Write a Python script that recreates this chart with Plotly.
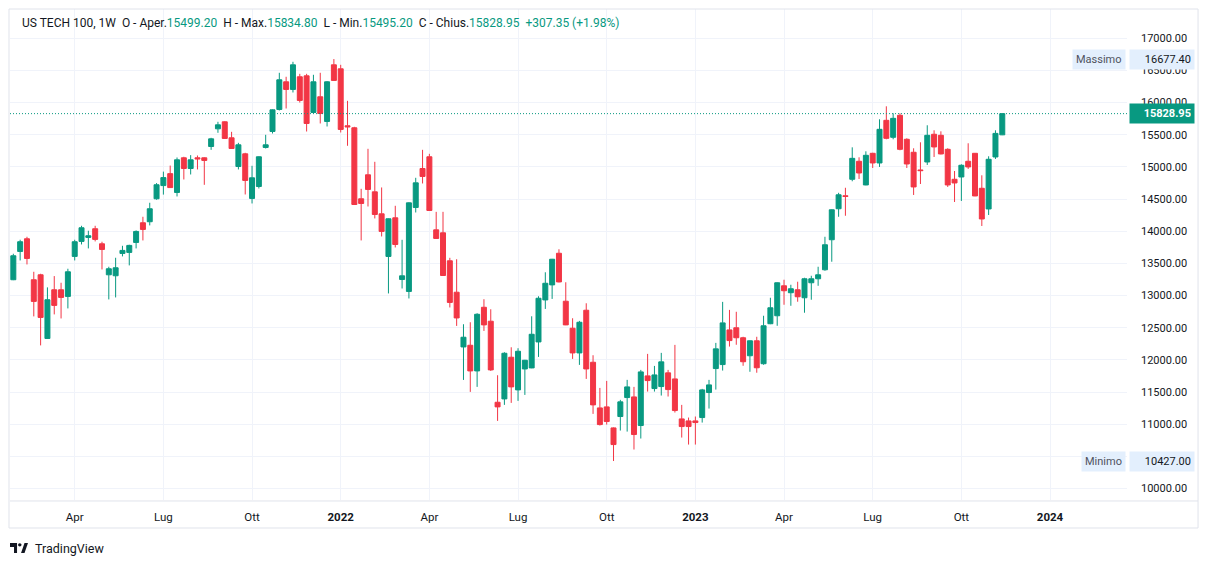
import plotly.graph_objects as go
import pandas as pd

# weekly candles, US TECH 100 (first bar: week of 2021-02-01)
first_week = "2021-02-01"

open_ = [13246, 13686, 13883, 13246, 13323, 12333, 13090, 13090, 12987, 13609,
         13842, 13904, 14039, 13805, 13323, 13308, 13655, 13671, 13826, 14132,
         14148, 14505, 14710, 14896, 14603, 15142, 14976, 15142, 15142, 15318,
         15593, 15702, 15453, 15007, 15204, 14510, 14696, 15303, 15552, 15894,
         16324, 16205, 16402, 16417, 15847, 16091, 15707, 16588, 16526, 15640,
         15609, 14505, 14878, 14613, 14271, 13608, 14209, 13250, 13064, 14370,
         14976, 15158, 14022, 13976, 13541, 13052, 12201, 12227, 11828, 12818,
         12601, 11341, 11393, 12041, 11533, 11859, 11875, 12279, 12932, 13166,
         13658, 12912, 12492, 12108, 12772, 11963, 11253, 11269, 10942, 11119,
         11414, 11424, 10979, 11751, 11554, 11585, 11798, 11704, 11082, 11051,
         11051, 11103, 11492, 11865, 11927, 12466, 12499, 12344, 12064, 12297,
         11940, 12562, 12686, 13152, 13044, 13090, 12966, 13199, 13261, 13401,
         13868, 14350, 14552, 14808, 15088, 14720, 15212, 15062, 15725, 15461,
         15803, 15430, 15228, 14953, 15077, 15508, 15492, 15274, 14808, 14844,
         15088, 15212, 14668, 14347, 15155, 15499.20]

high = [13650, 13868, 13914, 13370, 13339, 13127, 13303, 13199, 13417, 13868,
        14085, 14008, 14085, 13837, 13448, 13588, 13774, 13790, 14013, 14225,
        14443, 14749, 14927, 15021, 15147, 15158, 15184, 15178, 15150, 15453,
        15702, 15710, 15546, 15375, 15220, 15018, 15165, 15500, 15895, 16464,
        16402, 16635, 16448, 16448, 16433, 16464, 16335, 16677.40, 16588, 16028,
        15624, 14660, 15282, 15080, 14681, 14200, 14396, 13867, 14450, 14831,
        15266, 15204, 14302, 14302, 13587, 13565, 12554, 12585, 12725, 12943,
        12787, 11761, 12119, 12196, 12181, 12000, 12678, 12989, 13362, 13570,
        13720, 13207, 12647, 12606, 12880, 12072, 11564, 11673, 10950, 11378,
        11689, 11580, 11844, 12093, 11906, 12109, 11844, 12233, 11300, 11103,
        11119, 11549, 11689, 12264, 12902, 12777, 12748, 12359, 12300, 12359,
        12686, 12966, 13205, 13246, 13168, 13215, 13277, 13308, 13448, 13914,
        14340, 14598, 14676, 15305, 15150, 15243, 15220, 15741, 15943, 15834,
        15834, 15445, 15290, 15383, 15648, 15570, 15554, 15290, 14937, 15041,
        15368, 15215, 14870, 15166, 15570, 15834.80]

low = [13240, 13546, 13484, 12676, 12225, 12330, 12707, 12644, 12800, 13546,
       13795, 13733, 13842, 13406, 12940, 12971, 13609, 13469, 13733, 13857,
       14091, 14490, 14570, 14675, 14541, 14805, 14883, 14961, 14722, 15266,
       15531, 15440, 15280, 14961, 14572, 14432, 14665, 15287, 15520, 15878,
       15909, 16158, 16002, 15551, 15831, 15676, 15629, 16340, 15536, 15329,
       14410, 13857, 14385, 14199, 13919, 13033, 13748, 13110, 12955, 14292,
       14743, 14320, 13880, 13305, 12815, 12528, 11688, 11502, 11580, 12450,
       11828, 11051, 11300, 11331, 11362, 11455, 11870, 12046, 12792, 12948,
       13205, 12540, 12015, 11922, 11704, 11160, 10979, 10994, 10427.00, 10901,
       10885, 10606, 10777, 11507, 11507, 11445, 11430, 11181, 10792, 10683,
       10683, 11025, 11243, 11538, 11834, 12207, 12235, 11908, 11815, 11800,
       11924, 12555, 12530, 12857, 12841, 12904, 12733, 12935, 13152, 13386,
       13526, 14225, 14241, 14777, 14813, 14715, 14984, 15000, 15430, 15430,
       15259, 14984, 14564, 14735, 15031, 15155, 15195, 14689, 14455, 14471,
       14969, 14545, 14082, 14253, 15124, 15495.20]

close = [13619, 13837, 13577, 12909, 12660, 12935, 12847, 12971, 13370, 13837,
         14054, 13930, 13873, 13717, 13417, 13432, 13702, 13780, 13997, 14028,
         14350, 14723, 14834, 14679, 15111, 14976, 15111, 15126, 15101, 15437,
         15655, 15443, 15287, 15344, 14790, 14831, 15158, 15344, 15888, 16355,
         16205, 16588, 16034, 15676, 16324, 15831, 16324, 16345, 15583, 15624,
         14416, 14432, 14650, 14261, 13997, 14194, 13794, 13307, 14442, 14753,
         14852, 14323, 13888, 13312, 12893, 12652, 12352, 11828, 12709, 12544,
         11844, 11269, 12103, 11580, 12134, 11994, 12398, 12958, 13191, 13565,
         13212, 12544, 12108, 12585, 11859, 11300, 10994, 11041, 10683, 11347,
         11580, 10839, 11813, 11678, 11766, 11969, 11538, 11212, 10963, 10963,
         11025, 11533, 11611, 12171, 12575, 12300, 12344, 11971, 12297, 11877,
         12530, 12810, 13199, 13075, 13106, 12981, 13261, 13261, 13323, 13790,
         14334, 14567, 14541, 15134, 14906, 15181, 15062, 15585, 15445, 15756,
         15274, 15046, 14689, 14943, 15492, 15311, 15202, 14720, 14751, 15026,
         15000, 14549, 14191, 15119, 15521.60, 15828.95]

tick_dates = ["2021-04-05", "2021-07-05", "2021-10-04", "2022-01-03", "2022-04-04", "2022-07-04",
              "2022-10-03", "2023-01-02", "2023-04-03", "2023-07-03", "2023-10-02", "2024-01-01"]
tick_text = ["Apr", "Lug", "Ott", "<b>2022</b>", "Apr", "Lug", "Ott", "<b>2023</b>", "Apr", "Lug", "Ott",
             "<b>2024</b>"]
price_ticks = list(range(10000, 17001, 500))

GREEN = "#089981"
RED = "#F23645"
TXT = "#131722"
GRID = "#f0f3fa"
FONT = "Roboto"

dates = pd.date_range(first_week, periods=len(close), freq="7D")
last = close[-1]
change = close[-1] - close[-2]
hi_val = max(high)
lo_val = min(low)

fig = go.Figure(go.Candlestick(
    x=dates, open=open_, high=high, low=low, close=close,
    increasing=dict(line=dict(color=GREEN, width=1), fillcolor=GREEN),
    decreasing=dict(line=dict(color=RED, width=1), fillcolor=RED),
    whiskerwidth=0,
))

# page body has an 8px margin, so the figure is 16px smaller than the window
fig.update_layout(
    width=1193, height=548,
    margin=dict(l=2, r=74, t=1, b=56),
    paper_bgcolor="white", plot_bgcolor="white",
    font=dict(family=FONT, size=12, color=TXT),
    showlegend=False,
    boxgap=0.27, boxgroupgap=0,
    xaxis=dict(
        type="date", range=["2021-01-28 14:00", "2024-03-20"],
        rangeslider=dict(visible=False),
        tickvals=tick_dates, ticktext=tick_text,
        showgrid=True, gridcolor=GRID, gridwidth=1,
        ticks="", ticklabelstandoff=8, zeroline=False,
        showline=False,
        tickfont=dict(size=11.5, color=TXT),
    ),
    yaxis=dict(
        side="right", range=[9821, 17456],
        tickvals=price_ticks, tickformat=".2f",
        showgrid=True, gridcolor=GRID, gridwidth=1,
        ticks="", ticklabelstandoff=13, zeroline=False, showline=False,
        tickfont=dict(size=11, color=TXT),
    ),
)

# frame, time-axis separator and last-price line
border = "#e0e3eb"
fig.add_shape(type="rect", xref="paper", yref="paper", x0=-0.0009, x1=1.0636, y0=-0.057, y1=1.0,
              line=dict(color=border, width=1), fillcolor="rgba(0,0,0,0)", layer="above")
fig.add_shape(type="line", xref="paper", yref="paper", x0=0, x1=1.0636, y0=-0.002, y1=-0.002,
              line=dict(color=border, width=1))
fig.add_shape(type="line", xref="paper", yref="y", x0=0, x1=1, y0=last, y1=last,
              line=dict(color=GREEN, width=1, dash="1px,2px"))

g = lambda s: f"<span style='color:{GREEN}'>{s}</span>"
sp = "&nbsp;&nbsp;"
header = (f"US TECH 100, 1W{sp}O - Aper.{g(f'{open_[-1]:.2f}')}{sp}H - Max.{g(f'{high[-1]:.2f}')}"
          f"{sp}L - Min.{g(f'{low[-1]:.2f}')}{sp}C - Chius.{g(f'{close[-1]:.2f}')}"
          f"{sp}{g(f'+{change:.2f} (+{change / close[-2] * 100:.2f}%)')}")
fig.add_annotation(xref="paper", yref="paper", x=0.009, y=0.9715, xanchor="left", yanchor="middle",
                   text=header, showarrow=False, font=dict(size=12, color=TXT))

# high / low / last price labels on the price scale
for name, val in [("Massimo", hi_val), ("Minimo", lo_val)]:
    fig.add_annotation(xref="paper", yref="y", x=0.9995, y=val, xanchor="right", yanchor="middle",
                       text=name, showarrow=False, bgcolor="#e3effd", borderpad=3,
                       font=dict(size=11, color="#50535e"))
    fig.add_annotation(xref="paper", yref="y", x=1.0018, y=val, xanchor="left", yanchor="middle",
                       text=f"{val:.2f}", showarrow=False, bgcolor="#e3effd", borderpad=3,
                       width=58, align="right", font=dict(size=11, color=TXT))
fig.add_annotation(xref="paper", yref="y", x=1.0018, y=last, xanchor="left", yanchor="middle",
                   text=f"<b>{last:.2f}</b>", showarrow=False, bgcolor=GREEN, borderpad=3,
                   width=58, align="right", font=dict(size=11, color="white"))

# TradingView mark
fig.add_shape(type="path", xref="paper", yref="paper", layer="above",
              path="M 0 -0.0876 L 0.0063 -0.0876 L 0.0063 -0.1080 L 0.0036 -0.1080 L 0.0036 -0.0957 "
                   "L 0 -0.0957 Z",
              fillcolor=TXT, line=dict(width=0))
fig.add_shape(type="circle", xref="paper", yref="paper", layer="above",
              x0=0.0072, x1=0.0103, y0=-0.0945, y1=-0.0881, fillcolor=TXT, line=dict(width=0))
fig.add_shape(type="path", xref="paper", yref="paper", layer="above",
              path="M 0.0099 -0.1080 L 0.0130 -0.1080 L 0.0161 -0.0876 L 0.0130 -0.0876 Z",
              fillcolor=TXT, line=dict(width=0))
fig.add_annotation(xref="paper", yref="paper", x=0.0205, y=-0.0978, xanchor="left", yanchor="middle",
                   text="TradingView", showarrow=False, font=dict(size=12.5, color=TXT))

fig.write_html("out.html")
